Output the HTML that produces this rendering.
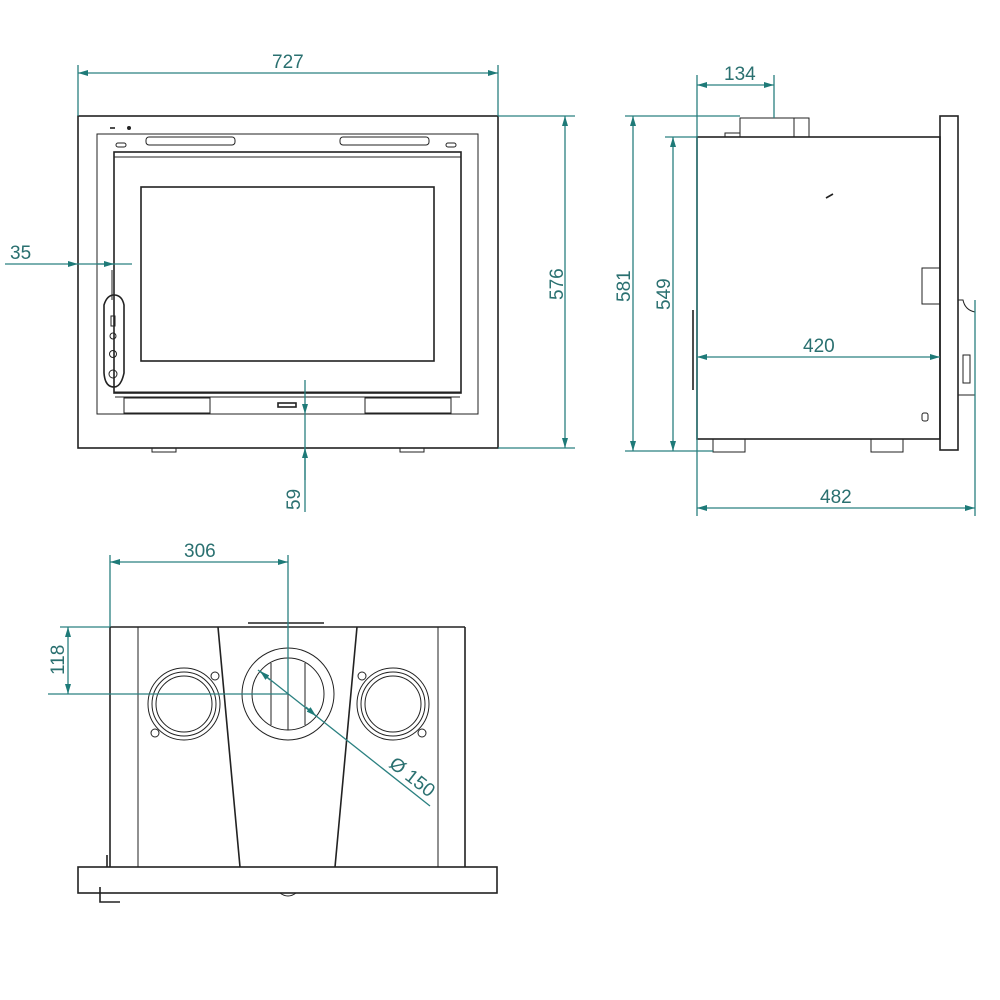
<!DOCTYPE html>
<html><head><meta charset="utf-8"><style>
html,body{margin:0;padding:0;background:#fff;width:1000px;height:1000px;overflow:hidden}
svg{display:block}
.k{stroke:#222;fill:none;stroke-width:1.6}
.k2{stroke:#222;fill:none;stroke-width:1}
.d{stroke:#2a8080;fill:none;stroke-width:1.3}
.t{fill:#2a7070;font-family:"Liberation Sans",sans-serif;font-size:19px}
.a{fill:#1e7a78}
</style></head><body>
<svg width="1000" height="1000" viewBox="0 0 1000 1000">
<defs>
<marker id="ar" viewBox="0 0 10 6" refX="10" refY="3" markerWidth="10" markerHeight="6" orient="auto-start-reverse" markerUnits="userSpaceOnUse"><path d="M0,0L10,3L0,6Z" class="a"/></marker>
</defs>

<!-- FRONT VIEW -->
<rect x="78" y="116" width="420" height="332" class="k"/>
<rect x="97" y="134" width="381" height="280" class="k2"/>
<rect x="114" y="152" width="347" height="241" class="k"/>
<line x1="114" y1="157" x2="461" y2="157" class="k2"/>
<rect x="141" y="187" width="293" height="174" class="k"/>
<rect x="146" y="137" width="89" height="8" rx="3" class="k2"/>
<rect x="340" y="137" width="89" height="8" rx="3" class="k2"/>
<rect x="116" y="143" width="10" height="4" rx="2" class="k2"/>
<rect x="446" y="143" width="10" height="4" rx="2" class="k2"/>
<line x1="110" y1="128" x2="115" y2="128" class="k"/><circle cx="129" cy="128" r="2" fill="#222"/>
<line x1="114" y1="392" x2="461" y2="392" class="k2"/><line x1="115" y1="397" x2="460" y2="397" class="k2"/>
<rect x="124" y="398" width="86" height="15" class="k2"/>
<rect x="365" y="398" width="86" height="15" class="k2"/>
<rect x="278" y="403" width="18" height="4" class="k"/>
<path d="M104,305 q3,-10 10,-10 q8,0 10,10 l0,68 q-3,14 -10,14 q-9,0 -10,-14z" class="k"/>
<circle cx="113" cy="336" r="3" class="k2"/><circle cx="113" cy="354" r="3.5" class="k2"/><circle cx="113" cy="374" r="4" class="k2"/>
<rect x="111" y="316" width="4" height="10" class="k2"/>
<line x1="112" y1="270" x2="112" y2="300" class="k2"/>
<rect x="152" y="448" width="24" height="4" class="k2"/><rect x="400" y="448" width="24" height="4" class="k2"/>

<!-- front dims -->
<line x1="78" y1="65" x2="78" y2="116" class="d"/><line x1="498" y1="65" x2="498" y2="116" class="d"/>
<line x1="78" y1="73" x2="498" y2="73" class="d" marker-start="url(#ar)" marker-end="url(#ar)"/>
<text x="272" y="68" class="t">727</text>
<line x1="498" y1="116" x2="575" y2="116" class="d"/><line x1="498" y1="448" x2="575" y2="448" class="d"/>
<line x1="565" y1="116" x2="565" y2="448" class="d" marker-start="url(#ar)" marker-end="url(#ar)"/>
<text transform="translate(563,300) rotate(-90)" class="t">576</text>
<line x1="5" y1="264" x2="78" y2="264" class="d" marker-end="url(#ar)"/>
<line x1="78" y1="264" x2="132" y2="264" class="d"/>
<line x1="97" y1="264" x2="114" y2="264" class="d" marker-end="url(#ar)"/>
<text x="10" y="259" class="t">35</text>
<line x1="305" y1="380" x2="305" y2="414" class="d" marker-end="url(#ar)"/>
<line x1="305" y1="414" x2="305" y2="512" class="d"/>
<line x1="305" y1="480" x2="305" y2="448" class="d" marker-end="url(#ar)"/>
<text transform="translate(300,510) rotate(-90)" class="t">59</text>

<!-- SIDE VIEW -->
<rect x="697" y="137" width="243" height="302" class="k"/>
<rect x="940" y="116" width="18" height="334" class="k"/>
<rect x="740" y="118" width="69" height="19" class="k2"/>
<line x1="794" y1="118" x2="794" y2="137" class="k2"/>
<rect x="725" y="133" width="15" height="4" class="k2"/>
<line x1="693" y1="310" x2="693" y2="390" class="k" stroke-width="2.5"/>
<line x1="826" y1="198" x2="833" y2="194" class="k" stroke-width="3"/>
<rect x="922" y="268" width="18" height="36" class="k2"/>
<path d="M958,300 L963,300 Q965,310 975,312 L975,395 L963,395 L958,395" class="k2"/>
<rect x="963" y="355" width="7" height="28" class="k2"/>
<rect x="922" y="413" width="6" height="8" rx="2" class="k2"/>
<rect x="713" y="439" width="32" height="13" class="k2"/><rect x="871" y="439" width="32" height="13" class="k2"/>

<!-- side dims -->
<line x1="697" y1="75" x2="697" y2="516" class="d"/>
<line x1="774" y1="75" x2="774" y2="118" class="d"/>
<line x1="697" y1="85" x2="774" y2="85" class="d" marker-start="url(#ar)" marker-end="url(#ar)"/>
<text x="724" y="80" class="t">134</text>
<line x1="625" y1="116" x2="740" y2="116" class="d"/>
<line x1="625" y1="451" x2="713" y2="451" class="d"/>
<line x1="633" y1="116" x2="633" y2="451" class="d" marker-start="url(#ar)" marker-end="url(#ar)"/>
<text transform="translate(630,302) rotate(-90)" class="t">581</text>
<line x1="665" y1="137" x2="697" y2="137" class="d"/>
<line x1="673" y1="137" x2="673" y2="451" class="d" marker-start="url(#ar)" marker-end="url(#ar)"/>
<text transform="translate(670,310) rotate(-90)" class="t">549</text>
<line x1="697" y1="357" x2="940" y2="357" class="d" marker-start="url(#ar)" marker-end="url(#ar)"/>
<text x="803" y="352" class="t">420</text>
<line x1="975" y1="300" x2="975" y2="516" class="d"/>
<line x1="697" y1="508" x2="975" y2="508" class="d" marker-start="url(#ar)" marker-end="url(#ar)"/>
<text x="820" y="503" class="t">482</text>

<!-- BOTTOM VIEW -->
<rect x="78" y="867" width="419" height="26" class="k"/>
<line x1="110" y1="627" x2="465" y2="627" class="k"/>
<line x1="110" y1="627" x2="110" y2="867" class="k"/>
<line x1="465" y1="627" x2="465" y2="867" class="k"/>
<path d="M110,627 L138,627 L138,867" class="k2"/>
<path d="M465,627 L438,627 L438,867" class="k2"/>
<line x1="218" y1="627" x2="240" y2="867" class="k"/>
<line x1="357" y1="627" x2="335" y2="867" class="k"/>
<line x1="248" y1="623" x2="324" y2="623" class="k" stroke-width="2.5"/>
<path d="M107,855 L107,867 M100,887 L100,902 L120,902" class="k"/>
<path d="M280,893 q8,6 16,0" class="k2"/>
<g class="k2">
<circle cx="184" cy="704" r="36"/><circle cx="184" cy="704" r="32"/><circle cx="184" cy="704" r="28"/>
<circle cx="215" cy="676" r="4"/><circle cx="155" cy="733" r="4"/>
<circle cx="393" cy="704" r="36"/><circle cx="393" cy="704" r="32"/><circle cx="393" cy="704" r="28"/>
<circle cx="362" cy="676" r="4"/><circle cx="422" cy="733" r="4"/>
<circle cx="288" cy="694" r="46"/><circle cx="288" cy="694" r="36"/>
<line x1="271" y1="663" x2="271" y2="725"/><line x1="305" y1="663" x2="305" y2="725"/><line x1="288" y1="658" x2="288" y2="730"/>
</g>

<!-- bottom dims -->
<line x1="110" y1="555" x2="110" y2="627" class="d"/>
<line x1="288" y1="555" x2="288" y2="694" class="d"/>
<line x1="110" y1="562" x2="288" y2="562" class="d" marker-start="url(#ar)" marker-end="url(#ar)"/>
<text x="184" y="557" class="t">306</text>
<line x1="60" y1="627" x2="110" y2="627" class="d"/>
<line x1="48" y1="694" x2="288" y2="694" class="d"/>
<line x1="68" y1="627" x2="68" y2="694" class="d" marker-start="url(#ar)" marker-end="url(#ar)"/>
<text transform="translate(64,675) rotate(-90)" class="t">118</text>
<line x1="258" y1="670" x2="430" y2="806" class="d"/>
<line x1="260" y1="671" x2="270" y2="680" class="d" marker-start="url(#ar)"/>
<line x1="306" y1="707" x2="316" y2="716" class="d" marker-end="url(#ar)"/>
<text transform="translate(388,766) rotate(38)" class="t">Ø 150</text>
</svg>
</body></html>
